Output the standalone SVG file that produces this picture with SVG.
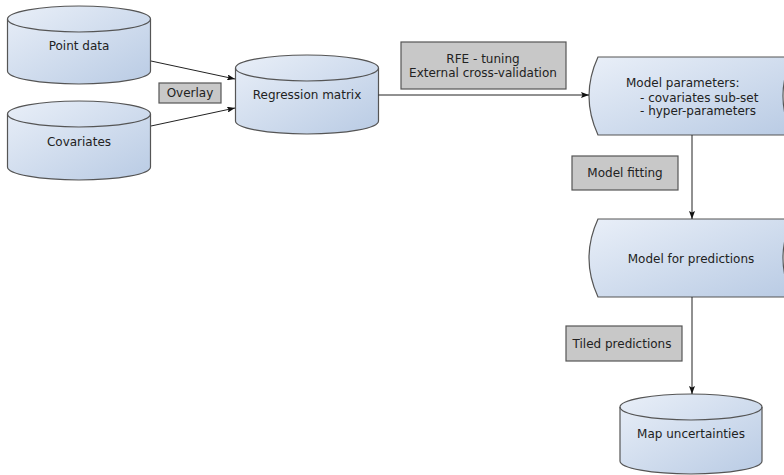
<svg xmlns="http://www.w3.org/2000/svg" width="784" height="475" viewBox="0 0 784 475">
  <defs>
    <linearGradient id="blue" x1="0" y1="0" x2="1" y2="1">
      <stop offset="0" stop-color="#e9eff8"/>
      <stop offset="1" stop-color="#b9cbe4"/>
    </linearGradient>
    <marker id="arr" markerUnits="userSpaceOnUse" markerWidth="8" markerHeight="6" refX="8" refY="3" orient="auto">
      <path d="M0,0 L8,3 L0,6 L1.5,3 z" fill="#111"/>
    </marker>
    <style>
      .shape { fill: url(#blue); stroke: #555; stroke-width: 1.2; }
      .edge { fill: none; stroke: #555; stroke-width: 1.2; }
      .label { fill: #c8c8c8; stroke: #555; stroke-width: 1.2; }
      .conn { fill: none; stroke: #222; stroke-width: 1; marker-end: url(#arr); }
      text { font-family: "DejaVu Sans", Verdana, sans-serif; font-size: 12px; fill: #222; }
      .c { text-anchor: middle; }
    </style>
  </defs>

  <g id="point-data">
    <path class="shape" d="M7.5,19 A71.5,13 0 0 1 150.5,19 L150.5,71 A71.5,13 0 0 1 7.5,71 Z"/>
    <path class="edge" d="M7.5,19 A71.5,13 0 0 0 150.5,19"/>
    <text class="c" x="79" y="50">Point data</text>
  </g>

  <g id="covariates">
    <path class="shape" d="M7.5,114 A71.5,13 0 0 1 150.5,114 L150.5,167 A71.5,13 0 0 1 7.5,167 Z"/>
    <path class="edge" d="M7.5,114 A71.5,13 0 0 0 150.5,114"/>
    <text class="c" x="79" y="146">Covariates</text>
  </g>

  <g id="regression-matrix">
    <path class="shape" d="M235.5,68 A71.5,13 0 0 1 378.5,68 L378.5,121 A71.5,13 0 0 1 235.5,121 Z"/>
    <path class="edge" d="M235.5,68 A71.5,13 0 0 0 378.5,68"/>
    <text class="c" x="307" y="99">Regression matrix</text>
  </g>

  <g id="overlay">
    <rect class="label" x="159" y="83" width="62" height="20"/>
    <text class="c" x="190" y="97">Overlay</text>
  </g>

  <g id="rfe">
    <rect class="label" x="401" y="42" width="165" height="47"/>
    <text class="c" x="483" y="63">RFE - tuning</text>
    <text class="c" x="483" y="77">External cross-validation</text>
  </g>

  <g id="model-parameters">
    <path class="shape" d="M598,57 L792,57 Q774,96 792,135 L598,135 Q580,96 598,57 Z"/>
    <text x="626" y="87">Model parameters:</text>
    <text x="640" y="102">- covariates sub-set</text>
    <text x="640" y="115">- hyper-parameters</text>
  </g>

  <g id="model-fitting">
    <rect class="label" x="572" y="156" width="106" height="34"/>
    <text class="c" x="625" y="177">Model fitting</text>
  </g>

  <g id="model-for-predictions">
    <path class="shape" d="M598,219 L792,219 Q774,258 792,297 L598,297 Q580,258 598,219 Z"/>
    <text class="c" x="691" y="263">Model for predictions</text>
  </g>

  <g id="tiled-predictions">
    <rect class="label" x="566" y="326" width="116" height="35"/>
    <text class="c" x="622" y="348">Tiled predictions</text>
  </g>

  <g id="map-uncertainties">
    <path class="shape" d="M620,407 A71,13 0 0 1 762,407 L762,461 A71,13 0 0 1 620,461 Z"/>
    <path class="edge" d="M620,407 A71,13 0 0 0 762,407"/>
    <text class="c" x="691" y="438">Map uncertainties</text>
  </g>

  <g id="connectors">
    <line class="conn" x1="151" y1="61" x2="235" y2="79"/>
    <line class="conn" x1="151" y1="126" x2="235" y2="108"/>
    <line class="conn" x1="378.5" y1="95" x2="589" y2="95"/>
    <line class="conn" x1="692" y1="135" x2="692" y2="219"/>
    <line class="conn" x1="692" y1="297" x2="692" y2="394"/>
  </g>
</svg>
